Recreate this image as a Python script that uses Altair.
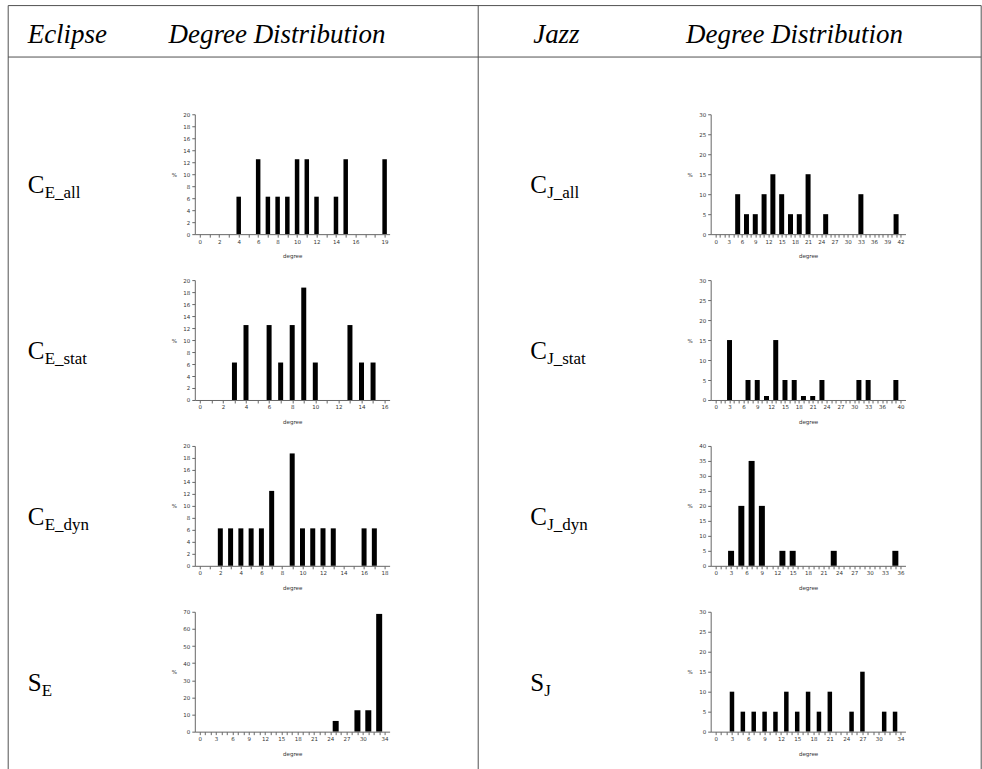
import altair as alt
import pandas as pd

# ---------------- data ----------------
ce_all_deg = [4, 6, 7, 8, 9, 10, 11, 12, 14, 15, 19]
ce_all_pct = [6.25, 12.5, 6.25, 6.25, 6.25, 12.5, 12.5, 6.25, 6.25, 12.5, 12.5]
ce_all_xlabels = [0, 2, 4, 6, 8, 10, 12, 14, 16, 19]

ce_stat_deg = [3, 4, 6, 7, 8, 9, 10, 13, 14, 15]
ce_stat_pct = [6.25, 12.5, 12.5, 6.25, 12.5, 18.75, 6.25, 12.5, 6.25, 6.25]
ce_stat_xlabels = [0, 2, 4, 6, 8, 10, 12, 14, 16]

ce_dyn_deg = [2, 3, 4, 5, 6, 7, 9, 10, 11, 12, 13, 16, 17]
ce_dyn_pct = [6.25, 6.25, 6.25, 6.25, 6.25, 12.5, 18.75, 6.25, 6.25, 6.25, 6.25, 6.25, 6.25]
ce_dyn_xlabels = [0, 2, 4, 6, 8, 10, 12, 14, 16, 18]

se_deg = [25, 29, 31, 33]
se_pct = [6.25, 12.5, 12.5, 68.75]
se_xlabels = [0, 3, 6, 9, 12, 15, 18, 21, 24, 27, 30, 34]

cj_all_deg = [5, 7, 9, 11, 13, 15, 17, 19, 21, 25, 33, 41]
cj_all_pct = [10, 5, 5, 10, 15, 10, 5, 5, 15, 5, 10, 5]
cj_all_xlabels = [0, 3, 6, 9, 12, 15, 18, 21, 24, 27, 30, 33, 36, 39, 42]

cj_stat_deg = [3, 7, 9, 11, 13, 15, 17, 19, 21, 23, 31, 33, 39]
cj_stat_pct = [15, 5, 5, 1, 15, 5, 5, 1, 1, 5, 5, 5, 5]
cj_stat_xlabels = [0, 3, 6, 9, 12, 15, 18, 21, 24, 27, 30, 33, 36, 40]

cj_dyn_deg = [3, 5, 7, 9, 13, 15, 23, 35]
cj_dyn_pct = [5, 20, 35, 20, 5, 5, 5, 5]
cj_dyn_xlabels = [0, 3, 6, 9, 12, 15, 18, 21, 24, 27, 30, 33, 36]

sj_deg = [3, 5, 7, 9, 11, 13, 15, 17, 19, 21, 25, 27, 31, 33]
sj_pct = [10, 5, 5, 5, 5, 10, 5, 10, 5, 10, 5, 15, 5, 5]
sj_xlabels = [0, 3, 6, 9, 12, 15, 18, 21, 24, 27, 30, 34]

header_texts = ["Eclipse", "Degree Distribution", "Jazz", "Degree Distribution"]
row_main = ["C", "C", "C", "S"]
row_sub_left = ["E_all", "E_stat", "E_dyn", "E"]
row_sub_right = ["J_all", "J_stat", "J_dyn", "J"]

# ---------------- layout constants ----------------
PW, PH = 195, 120          # plot area of each small chart
OX, OY = 194.3, 113.3      # absolute position of first plot
COL_GAP = 321.4
ROW_GAP = 46
ROW_PITCH = PH + ROW_GAP

LINE = "#505050"
AXC = "#666666"
LBL = "#333333"


def ax(v):
    return v - OX


def ay(v):
    return v - OY


def panel(deg, pct, xmax, xlabels, ymax, ystep, barw):
    df = pd.DataFrame({"degree": deg, "pct": pct})
    arr = ",".join(str(v) for v in xlabels)
    common = dict(
        grid=False,
        labelOverlap=False,
        labelFlush=False,
        labelFontSize=5.5,
        labelFont="DejaVu Sans",
        labelColor=LBL,
        labelPadding=2,
        titleFontSize=5.5,
        titleFont="DejaVu Sans",
        titleFontWeight="normal",
        titleColor=LBL,
        titlePadding=9,
        tickSize=3,
        tickColor=AXC,
        domainColor=AXC,
        zindex=1,
    )
    x = alt.X(
        "degree:Q",
        scale=alt.Scale(domain=[0, xmax], nice=False, zero=True),
        axis=alt.Axis(
            values=list(range(0, xmax + 1)),
            labelExpr=f"indexof([{arr}], datum.value) >= 0 ? datum.label : ''",
            title="degree",
            **common,
        ),
    )
    y = alt.Y(
        "pct:Q",
        scale=alt.Scale(domain=[0, ymax], nice=False),
        axis=alt.Axis(
            values=list(range(0, ymax + 1, ystep)),
            title="%",
            titleAngle=0,
            titleBaseline="middle",
            titleAlign="center",
            **common,
        ),
    )
    return (
        alt.Chart(df)
        .mark_bar(size=barw, color="black", clip=False)
        .encode(x=x, y=y)
    )


one = pd.DataFrame({"k": [0]})


def rule(x1, y1, x2, y2):
    return alt.Chart(one).mark_rule(color=LINE, strokeWidth=1).encode(
        x=alt.value(ax(x1)), x2=alt.value(ax(x2)),
        y=alt.value(ay(y1)), y2=alt.value(ay(y2)),
    )


def text(t, x, y, size, style="normal", align="left"):
    return alt.Chart(one).mark_text(
        text=t, font="Liberation Serif", fontSize=size, fontStyle=style,
        align=align, baseline="alphabetic", color="black",
    ).encode(x=alt.value(ax(x)), y=alt.value(ay(y)))


deco = []
# transparent frame covering the whole canvas (fixes the canvas extent)
deco.append(
    alt.Chart(one).mark_rect(color="white", opacity=0).encode(
        x=alt.value(ax(0)), x2=alt.value(ax(982)),
        y=alt.value(ay(0)), y2=alt.value(ay(769)),
    )
)
# table lines
deco.append(rule(7.5, 4.5, 981.5, 4.5))
deco.append(rule(7.5, 56, 981.5, 56))
deco.append(rule(7.5, 4.5, 7.5, 769))
deco.append(rule(478, 4.5, 478, 769))
deco.append(rule(981.5, 4.5, 981.5, 769))
# header
HB = 42
deco.append(text(header_texts[0], 27, HB, 27, "italic"))
deco.append(text(header_texts[1], 168, HB, 27, "italic"))
deco.append(text(header_texts[2], 533, HB, 27, "italic"))
deco.append(text(header_texts[3], 686, HB, 27, "italic"))
# row labels
for i in range(4):
    base = OY + i * ROW_PITCH + 79
    sub_dx = 17 if row_main[i] == "C" else 14
    deco.append(text(row_main[i], 27, base, 25))
    deco.append(text(row_sub_left[i], 27 + sub_dx, base + 5, 17))
    deco.append(text(row_main[i], 530, base, 25))
    deco.append(text(row_sub_right[i], 530 + sub_dx, base + 5, 17))

p1 = panel(ce_all_deg, ce_all_pct, 19, ce_all_xlabels, 20, 2, 4.5)
p2 = panel(cj_all_deg, cj_all_pct, 42, cj_all_xlabels, 30, 5, 5)
p3 = panel(ce_stat_deg, ce_stat_pct, 16, ce_stat_xlabels, 20, 2, 5)
p4 = panel(cj_stat_deg, cj_stat_pct, 40, cj_stat_xlabels, 30, 5, 5)
p5 = panel(ce_dyn_deg, ce_dyn_pct, 18, ce_dyn_xlabels, 20, 2, 5)
p6 = panel(cj_dyn_deg, cj_dyn_pct, 36, cj_dyn_xlabels, 40, 5, 6)
p7 = panel(se_deg, se_pct, 34, se_xlabels, 70, 10, 6)
p8 = panel(sj_deg, sj_pct, 34, sj_xlabels, 30, 5, 4.5)

first = alt.layer(*deco, p1).properties(width=PW, height=PH)
others = [p.properties(width=PW, height=PH) for p in [p2, p3, p4, p5, p6, p7, p8]]

chart = (
    alt.concat(
        first, *others,
        columns=2,
        spacing={"row": ROW_GAP, "column": COL_GAP},
        bounds="flush",
    )
    .properties(padding=0, background="white")
    .configure_view(stroke=None)
)

chart.save("out.html", embed_options={"renderer": "svg", "actions": False})
